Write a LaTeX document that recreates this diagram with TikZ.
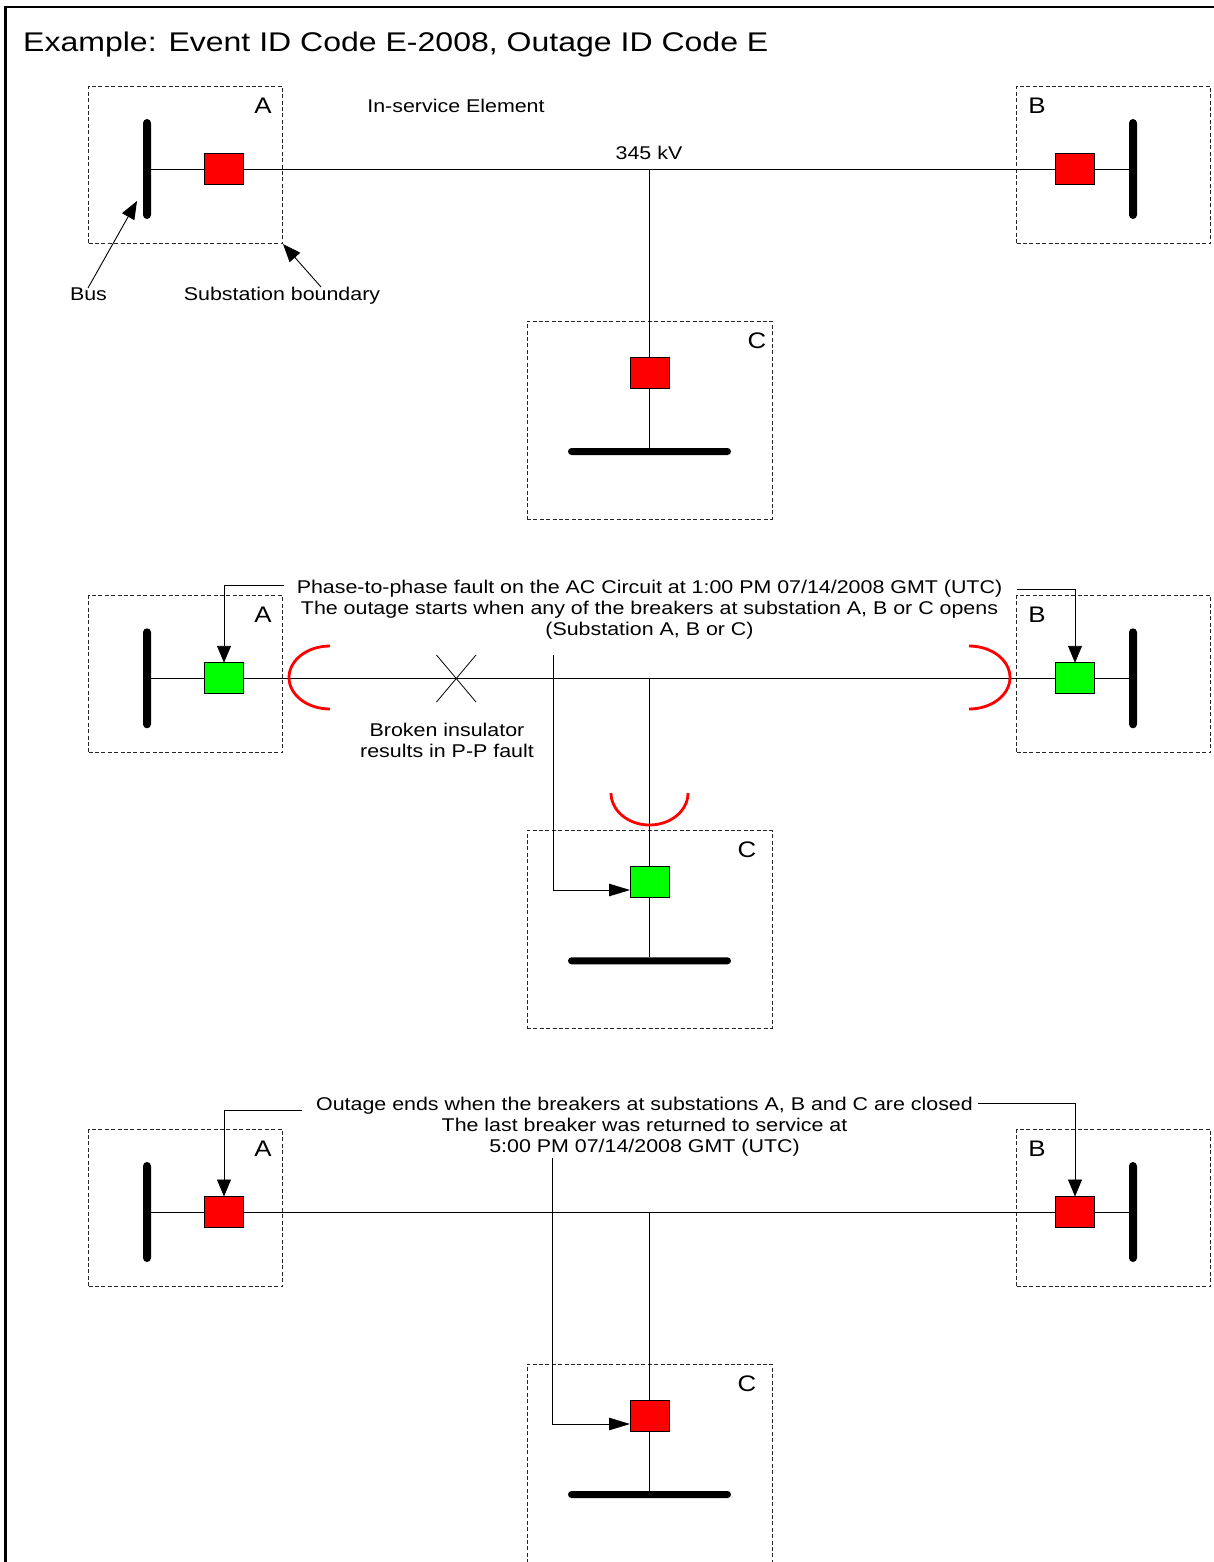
\documentclass[tikz,border=0pt]{standalone}
\usepackage{fontspec}
\usetikzlibrary{arrows.meta,calc}
\setmainfont{Liberation Sans}
\newfontfamily\diagfont[FakeStretch=1.16]{Liberation Sans}
\newfontfamily\titlefont[FakeStretch=1.186]{Liberation Sans}
\newfontfamily\letterfont[FakeStretch=1.15]{Liberation Sans}
\tikzset{
  wire/.style={draw=black,line width=0.9pt},
  callout/.style={wire,-{Triangle[length=17pt,width=14pt]}},
  calloutside/.style={wire,-{Triangle[length=21pt,width=12.5pt]}},
  pointer/.style={wire,-{Triangle[length=18pt,width=14pt]}},
  substation/.style={draw=black!85,line width=0.9pt,dash pattern=on 4pt off 2.4pt,inner sep=0pt,outer sep=0pt,minimum width=#1},
  breaker/.style={draw=black,line width=0.9pt,fill=#1,inner sep=0pt,outer sep=0pt,minimum width=39pt,minimum height=31pt},
  busv/.style={fill=black,rounded corners=4pt,inner sep=0pt,outer sep=0pt,minimum width=8pt,minimum height=100pt},
  bush/.style={fill=black,rounded corners=3.5pt,inner sep=0pt,outer sep=0pt,minimum width=163pt,minimum height=7pt},
  lbl/.style={font=\diagfont\fontsize{18.45}{21}\selectfont,inner sep=0pt,outer sep=0pt,align=center,text height=13pt,text depth=4pt},
  letter/.style={font=\letterfont\fontsize{22.5}{25}\selectfont,inner sep=0pt,outer sep=0pt},
  flash/.style={draw=red,line width=2.8pt},
}
\newcommand{\substn}[4]{%
\begin{scope}[yshift=-#1pt,name prefix=#3-]
  \node[substation=194pt,minimum height=157pt] (boxA) at (185.5,165) {};
  \node[substation=194pt,minimum height=157pt] (boxB) at (1113.5,165) {};
  \node[substation=245pt,minimum height=198pt] (boxC) at (649.5,420) {};
  \node[letter] (lA) at (263,105.5) {A};
  \node[letter] (lB) at (1037,105.5) {B};
  \node[letter] (lC) at (#4,340.5) {C};
  \node[busv] (busA) at (147,169) {};
  \node[busv] (busB) at (1133,169) {};
  \node[bush] (busC) at (649.5,451.5) {};
  \coordinate (J) at (649.5,169);
  \node[breaker=#2] (brA) at (224,169) {};
  \node[breaker=#2] (brB) at (1075,169) {};
  \node[breaker=#2] (brC) at (649.5,373) {};
  \draw[wire] (busA) -- (brA);
  \draw[wire] (brA) -- (brB);
  \draw[wire] (brB) -- (busB);
  \draw[wire] (J) -- (brC);
  \draw[wire] (brC) -- (busC);
\end{scope}}
\begin{document}
\begin{tikzpicture}[x=1pt,y=-1pt]
\useasboundingbox[fill=white] (0,0) rectangle (1214,1562);
\coordinate (frameBL) at (5.5,1562);
\coordinate (frameTL) at (5.5,7);
\coordinate (frameTR) at (1214,7);
\draw[line width=2.4pt] (frameBL) -- (frameTL) -- (frameTR);
\node[inner sep=0pt,anchor=west,font=\titlefont\fontsize{27}{30}\selectfont] (title) at (23,44.5) {Example: Event ID Code E-2008, Outage ID Code E};

% Panel 1
\substn{0}{red}{p1}{757}
\node[lbl] (service) at (456,108.5) {In-service Element};
\node[lbl] (kv) at (649,155.5) {345 kV};
\node[lbl] (buslabel) at (88.5,295.5) {Bus};
\node[lbl] (sublabel) at (282,295.5) {Substation boundary};
\coordinate (busfrom) at (88,288);
\coordinate (busto) at (137,201);
\coordinate (subfrom) at (321,287);
\coordinate (subto) at (283,244);
\draw[pointer] (busfrom) -- (busto);
\draw[pointer] (subfrom) -- (subto);

% Panel 2
\substn{509.3}{green}{p2}{747}
\node[lbl] (fault) at (649.5,631) {Phase-to-phase fault on the AC Circuit at 1:00 PM 07/14/2008 GMT (UTC)\\The outage starts when any of the breakers at substation A, B or C opens\\(Substation A, B or C)};
\node[lbl] (insul) at (447,753) {Broken insulator\\results in P-P fault};
\coordinate (x1) at (436.5,655);
\coordinate (x2) at (476,702);
\coordinate (x3) at (476,655);
\coordinate (x4) at (436.5,702);
\draw[line width=0.8pt] (x1) -- (x2) (x3) -- (x4);
\coordinate (arcA) at (330,646);
\coordinate (arcB) at (969,646);
\coordinate (arcC) at (611,793);
\draw[flash] (arcA) arc[start angle=-90,end angle=-270,x radius=41,y radius=31.5];
\draw[flash] (arcB) arc[start angle=-90,end angle=90,x radius=41,y radius=31.5];
\draw[flash] (arcC) arc[start angle=180,end angle=360,x radius=38.5,y radius=-32];
\coordinate (f2a) at (284,585);
\coordinate (f2b) at (1017,589);
\coordinate (f2c) at (553,655);
\coordinate (f2ci) at (630,890);
\draw[callout] (f2a) -| (p2-brA.north);
\draw[callout] (f2b) -| (p2-brB.north);
\draw[calloutside] (f2c) |- (f2ci);

% Panel 3
\substn{1043}{red}{p3}{747}
\node[lbl] (ends) at (644.5,1147.5) {Outage ends when the breakers at substations A, B and C are closed\\The last breaker was returned to service at\\5:00 PM 07/14/2008 GMT (UTC)};
\coordinate (f3a) at (302,1110);
\coordinate (f3b) at (978,1103);
\coordinate (f3c) at (552,1158);
\coordinate (f3ci) at (630,1424);
\draw[callout] (f3a) -| (p3-brA.north);
\draw[callout] (f3b) -| (p3-brB.north);
\draw[calloutside] (f3c) |- (f3ci);
\end{tikzpicture}
\end{document}
